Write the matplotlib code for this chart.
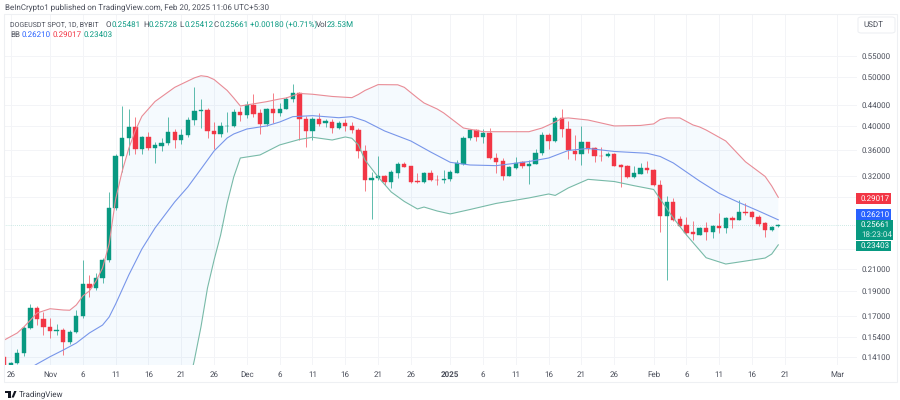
#!/usr/bin/env python3
"""
DOGEUSDT daily candles with Bollinger Bands, TradingView style
"""
import numpy as np
import matplotlib
matplotlib.use("Agg")
import matplotlib.pyplot as plt
from matplotlib.patches import Rectangle, FancyBboxPatch, Polygon
from matplotlib.ticker import NullLocator

# candles, first one is 25 Oct 2024 (day -1), last one 20 Feb 2025 (day 117)
opens = [.1409, .1347, .1370, .1437, .1609, .1757, .1675, .1614, .1583, .1590, .1508, .1578, .1696, .1961, .1926, .2017,
         .2185, .2765, .3504, .3791, .3984, .3612, .3808, .3633, .3661, .3706, .3905, .3766, .3848, .4120, .4295, .4302,
         .3918, .3860, .4002, .4013, .4264, .4207, .4402, .4245, .4050, .4322, .4251, .4334, .4522, .4660, .4130, .3923,
         .4130, .4057, .4086, .3966, .4057, .4011, .3930, .3574, .3134, .3167, .3200, .3115, .3244, .3370, .3344, .3124,
         .3110, .3239, .3142, .3134, .3148, .3244, .3374, .3791, .3935, .3808, .3888, .3472, .3420, .3196, .3318, .3405,
         .3344, .3374, .3542, .3853, .3744, .4150, .3953, .3579, .3536, .3728, .3623, .3504, .3504, .3531, .3359, .3339,
         .3177, .3225, .3309, .3283, .3069, .2671, .2842, .2627, .2558, .2477, .2451, .2526, .2484, .2553, .2526, .2643,
         .2623, .2719, .2712, .2652, .2581, .2503, .25481]
highs = [.1422, .1378, .1461, .1621, .1787, .1775, .1727, .1681, .1636, .1607, .1592, .1743, .2190, .2042, .2060, .2205,
         .2977, .3523, .4394, .4328, .4169, .3822, .3905, .3733, .3801, .4180, .3953, .3953, .4180, .4788, .4522, .4354,
         .4086, .4075, .4276, .4322, .4362, .4493, .4632, .4322, .4342, .4660, .4441, .4576, .4840, .4674, .4190, .4169,
         .4245, .4137, .4130, .4104, .4130, .4086, .3971, .3678, .3254, .3499, .3211, .3283, .3409, .3400, .3349, .3244,
         .3258, .3283, .3211, .3283, .3283, .3435, .3822, .3948, .3948, .3948, .3966, .3542, .3462, .3349, .3478, .3424,
         .3435, .3612, .3897, .3888, .4199, .4328, .4099, .3848, .4008, .3733, .3650, .3650, .3555, .3542, .3374, .3359,
         .3344, .3385, .3420, .3303, .3138, .2920, .2890, .2667, .2651, .2607, .2532, .2599, .2561, .2700, .2660, .2667,
         .2867, .2825, .2732, .2679, .2592, .2549, .25728]
lows = [.1328, .1340, .1365, .1416, .1599, .1628, .1556, .1535, .1556, .1422, .1494, .1571, .1681, .1849, .1908, .1970,
        .2166, .2740, .3258, .3515, .3531, .3526, .3595, .3394, .3579, .3678, .3633, .3700, .3818, .4026, .3966, .3801,
        .3607, .3818, .3905, .3984, .4104, .4150, .4169, .3865, .4008, .4057, .4199, .4322, .4473, .3761, .3650, .3761,
        .4008, .3995, .3888, .3948, .3923, .3878, .3462, .2990, .2627, .3138, .3069, .3023, .3163, .3324, .3092, .3100,
        .3100, .3124, .3069, .3100, .3128, .3235, .3363, .3761, .3744, .3706, .3451, .3235, .3138, .3189, .3294, .3318,
        .3083, .3370, .3515, .3607, .3733, .3818, .3446, .3435, .3359, .3552, .3409, .3424, .3488, .3344, .3046, .3163,
        .3167, .3220, .3244, .3055, .2484, .1996, .2607, .2539, .2448, .2392, .2448, .2392, .2418, .2473, .2466, .2523,
        .2619, .2679, .2627, .2549, .2422, .2492, .25412]
closes = [.1347, .1370, .1437, .1609, .1757, .1675, .1612, .1585, .1592, .1508, .1580, .1696, .1961, .1926, .2017, .2185,
          .2765, .3504, .3791, .3984, .3612, .3808, .3633, .3673, .3706, .3905, .3761, .3853, .4122, .4295, .4308, .3918,
          .3860, .4002, .4013, .4270, .4207, .4408, .4232, .4050, .4322, .4256, .4334, .4522, .4660, .4130, .3923, .4130,
          .4050, .4093, .3966, .4057, .4013, .3930, .3574, .3134, .3171, .3200, .3115, .3250, .3370, .3333, .3115, .3110,
          .3235, .3134, .3134, .3148, .3250, .3385, .3791, .3935, .3808, .3888, .3462, .3400, .3196, .3333, .3394, .3339,
          .3374, .3542, .3853, .3744, .4150, .3953, .3595, .3536, .3728, .3617, .3504, .3494, .3536, .3348, .3333, .3177,
          .3235, .3309, .3279, .3069, .2671, .2842, .2619, .2553, .2473, .2453, .2526, .2484, .2553, .2523, .2640, .2623,
          .2716, .2704, .2652, .2576, .2503, .2542, .25661]

# Bollinger lines at the days where they bend
upper_days = [-1, 1, 2, 3, 4, 6, 8, 9, 10, 11, 12, 13, 14, 15, 16, 17, 18, 19, 20, 22, 25, 28, 29, 30, 31, 33, 34, 35, 36,
              39, 41, 42, 44, 46, 49, 52, 53, 54, 56, 59, 60, 62, 63, 65, 66, 69, 72, 79, 81, 83, 84, 85, 88, 92, 96, 98,
              99, 100, 102, 104, 105, 106, 109, 112, 115, 116, 117]
upper_band = [.1521, .1571, .1614, .1665, .1719, .1753, .1743, .1741, .1783, .1857, .1900, .1987, .2107, .2349, .2880,
              .3268, .3620, .3925, .4187, .4477, .4773, .4982, .5030, .5011, .4945, .4706, .4549, .4387, .4408, .4473,
              .4528, .4549, .4643, .4626, .4580, .4555, .4622, .4706, .4832, .4828, .4773, .4549, .4447, .4328, .4251,
              .3971, .3905, .3905, .3971, .4080, .4147, .4156, .4117, .4008, .4017, .4045, .4127, .4156, .4156, .4026,
              .3990, .3935, .3744, .3408, .3189, .3055, .29017]
middle_days = [-1, 4, 6, 8, 10, 12, 14, 15, 16, 18, 20, 22, 25, 27, 29, 31, 33, 34, 36, 39, 41, 43, 46, 50, 52, 54, 57, 61,
               64, 67, 70, 74, 79, 82, 85, 88, 92, 97, 99, 101, 103, 105, 108, 111, 114, 117]
middle_band = [.1250, .1365, .1411, .1454, .1501, .1571, .1628, .1688, .1791, .2042, .2297, .2526, .2842, .3041, .3298,
               .3579, .3796, .3865, .3953, .4008, .4080, .4180, .4199, .4160, .4180, .4099, .3918, .3744, .3563, .3400,
               .3359, .3349, .3412, .3467, .3587, .3620, .3571, .3542, .3491, .3390, .3254, .3124, .2954, .2835, .2728,
               .26210]
lower_days = [-1, 27, 28, 29, 30, 31, 32, 33, 34, 35, 36, 38, 41, 44, 46, 49, 51, 52, 53, 54, 56, 58, 60, 62, 63, 65, 67,
              70, 74, 79, 82, 83, 85, 88, 92, 95, 98, 99, 101, 103, 106, 109, 112, 115, 116, 117]
lower_band = [.1000, .1219, .1390, .1614, .1926, .2185, .2447, .2829, .3182, .3467, .3483, .3515, .3678, .3770, .3808,
              .3761, .3813, .3791, .3678, .3435, .3182, .2973, .2848, .2753, .2777, .2728, .2692, .2746, .2823, .2894,
              .2946, .2927, .3028, .3148, .3117, .3059, .3007, .2880, .2643, .2448, .2208, .2146, .2175, .2205, .2245,
              .23403]

# 0.29 and 0.23 only keep their grid line, the tags cover their labels
price_ticks = [.55, .50, .44, .40, .36, .32, .29, .23, .21, .19, .17, .154, .141]
price_labels = ["0.55000", "0.50000", "0.44000", "0.40000", "0.36000", "0.32000", "", "", "0.21000",
                "0.19000", "0.17000", "0.15400", "0.14100"]
date_ticks = [0, 6, 11, 16, 21, 26, 31, 36, 41, 46, 51, 56, 61, 67, 72, 77, 82, 87, 92, 98, 103, 108, 113, 118, 126]
date_labels = ["26", "Nov", "6", "11", "16", "21", "26", "Dec", "6", "11", "16", "21", "26", "2025", "6", "11", "16",
               "21", "26", "Feb", "6", "11", "16", "21", "Mar"]

UP = "#089981"
DOWN = "#f23645"
TEXT = "#4a4e5a"
W, H = 900, 400
SMALL = 5.7

plt.rcParams['font.family'] = ['Roboto', 'DejaVu Sans']
plt.rcParams['text.hinting'] = 'no_hinting'
plt.rcParams['text.hinting_factor'] = 1


def put(fig, x, y, s, color=TEXT, size=SMALL, **kw):
    """Text placed by pixel position, y measured from the top"""
    kw.setdefault('va', 'center')
    fig.text(x / W, 1 - y / H, s, color=color, fontsize=size, **kw)


def box(fig, x0, y0, x1, y1, **kw):
    fig.add_artist(Rectangle((x0 / W, 1 - y1 / H), (x1 - x0) / W, (y1 - y0) / H, transform=fig.transFigure, **kw))


fig = plt.figure(figsize=(9, 4), dpi=100)
ax = fig.add_axes([4 / W, 1 - 365 / H, 853 / W, 351 / H])

days = np.arange(-1, 118)
o = np.array(opens)
c = np.array(closes)
colors = np.where(c >= o, UP, DOWN)

ax.set_yscale('log')
ax.fill(upper_days + lower_days[::-1], upper_band + lower_band[::-1], color="#2196f3", alpha=0.045, lw=0, zorder=1)
ax.vlines(days, lows, highs, colors=colors, lw=0.7, alpha=0.65, zorder=2)
ax.bar(days, np.abs(c - o), bottom=np.minimum(o, c), width=0.66, color=colors, edgecolor=colors, lw=0.3, zorder=2.5)
ax.plot(upper_days, upper_band, color="#e98c96", lw=0.8, zorder=3)
ax.plot(middle_days, middle_band, color="#7896ea", lw=0.8, zorder=3)
ax.plot(lower_days, lower_band, color="#78baa8", lw=0.8, zorder=3)
ax.axhline(closes[-1], color=UP, lw=0.5, ls=(0, (1, 2)), alpha=0.4, zorder=1.5)

ax.set_xlim(-1.02, 129)
ax.set_ylim(.1359, .6651)
ax.yaxis.set_minor_locator(NullLocator())
ax.yaxis.tick_right()
ax.set_yticks(price_ticks, price_labels)
ax.set_xticks(date_ticks, date_labels)
ax.tick_params(axis='both', length=0, labelcolor=TEXT, labelsize=SMALL)
ax.tick_params(axis='y', pad=3)
ax.tick_params(axis='x', pad=4.5)
ax.get_xticklabels()[13].set_fontweight('bold')
ax.grid(True, color="#f3f4f7", lw=0.7)
ax.set_axisbelow(True)
for spine in ax.spines.values():
    spine.set_visible(False)

# outer frame of the widget
box(fig, 4, 14, 897, 382, fill=False, edgecolor="#eef0f3", lw=0.8, zorder=0.5)

# header lines
put(fig, 5, 7, "BeInCrypto1 published on TradingView.com, Feb 20, 2025 11:06 UTC+5:30", size=6.0)
put(fig, 10, 25, "DOGEUSDT SPOT, 1D, BYBIT", size=5.4)
for x, name, value in [(106, "O", "0.25481"), (143, "H", "0.25728"), (179, "L", "0.25412"), (214, "C", "0.25661")]:
    put(fig, x, 25, name)
    put(fig, x + 5.5, 25, value, color=UP)
put(fig, 250, 25, "+0.00180 (+0.71%)", color=UP)
put(fig, 316, 25, "Vol")
put(fig, 326.5, 25, "23.53M", color=UP)
put(fig, 10, 35, "BB")
put(fig, 22, 35, "0.26210", color="#2962ff")
put(fig, 53, 35, "0.29017", color=DOWN)
put(fig, 84, 35, "0.23403", color=UP)

# unit button
fig.add_artist(FancyBboxPatch((858 / W, 1 - 33 / H), 37 / W, 16 / H, boxstyle="round,pad=0,rounding_size=0.004",
                              transform=fig.transFigure, facecolor="white", edgecolor="#eceef2", lw=0.7, zorder=1))
put(fig, 863, 25, "USDT")

# price tags on the axis
box(fig, 856, 193, 891, 203.5, color=DOWN, lw=0, zorder=1)
box(fig, 856, 209, 891, 220, color="#2962ff", lw=0, zorder=1)
box(fig, 856, 241, 891, 250.5, color=UP, lw=0, zorder=1)
box(fig, 856, 220, 893, 239.5, color=UP, lw=0, zorder=1)
put(fig, 861, 198.3, "0.29017", color="white")
put(fig, 861, 214.5, "0.26210", color="white")
put(fig, 861, 225, "0.25661", color="white")
put(fig, 861, 234.5, "18:23:04", color="#d5efe9")
put(fig, 861, 245.5, "0.23403", color="white")

# TradingView mark and name at the bottom
box(fig, 5, 391, 10.5, 393.2, color="#131722", lw=0, zorder=2)
box(fig, 7.6, 391, 10.5, 397.5, color="#131722", lw=0, zorder=2)
fig.add_artist(Polygon([(11.5 / W, 1 - 397.5 / H), (14.2 / W, 1 - 391 / H), (16.5 / W, 1 - 391 / H),
                        (13.8 / W, 1 - 397.5 / H)], transform=fig.transFigure, color="#131722", lw=0, zorder=2))
put(fig, 19, 394, "TradingView", color="#3a3e4a", size=5.9)

fig.savefig("out.png", dpi=100, facecolor="white")
